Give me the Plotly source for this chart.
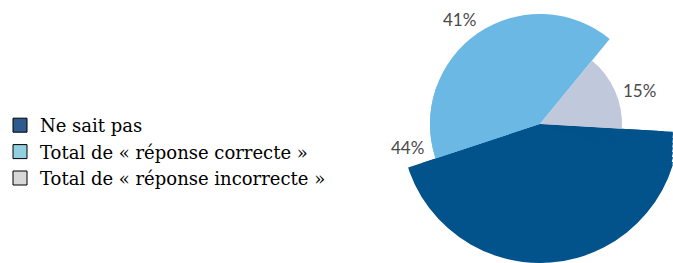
import math
import plotly.graph_objects as go

# ---- data ----
categories = ["Ne sait pas", "Total de « réponse correcte »", "Total de « réponse incorrecte »"]
percent = [44, 41, 15]
slice_radius = [142, 110, 82]          # relative radius of each slice
labels = ["44%", "41%", "15%"]

# ---- styles / layout constants ----
slice_colors = ["#02528b", "#6cb8e4", "#c0c9dc"]
legend_colors = ["#2e5a8e", "#92cfe0", "#d8d8d8"]
start_angle = 3.3                        # degrees, clockwise from east
label_px = [(407, 148), (459, 20), (639, 90)]   # label centres in pixels (x, y from top)

W, H = 673, 263
cx, cy = 540, 124                        # pie centre in pixels (from top-left)

# slice centres / widths (degrees, clockwise from east)
widths = [p * 3.6 for p in percent]
centres = []
acc = start_angle
for w in widths:
    centres.append(acc + w / 2)
    acc += w


def sector_bbox(s0, s1):
    """Same bounding box rule plotly uses for a polar sector (ccw degrees)."""
    arc = s1 - s0
    a0 = s0 % 360
    a1 = a0 + arc
    ax0, ay0 = math.cos(math.radians(a0)), math.sin(math.radians(a0))
    ax1, ay1 = math.cos(math.radians(a1)), math.sin(math.radians(a1))
    if (a0 <= 90 <= a1) or (a0 > 90 and a1 >= 450):
        y1 = 1
    elif ay0 <= 1e-9 and ay1 <= 1e-9:
        y1 = 0
    else:
        y1 = max(ay0, ay1)
    if (a0 <= 180 <= a1) or (a0 > 180 and a1 >= 540):
        x0 = -1
    elif ax0 >= 0 and ax1 >= 0:
        x0 = 0
    else:
        x0 = min(ax0, ax1)
    if (a0 <= 270 <= a1) or (a0 > 270 and a1 >= 630):
        y0 = -1
    elif ay0 >= 0 and ay1 >= 0:
        y0 = 0
    else:
        y0 = min(ay0, ay1)
    if a1 >= 360:
        x1 = 1
    elif ax0 <= 0 and ax1 <= 0:
        x1 = 0
    else:
        x1 = max(ax0, ax1)
    return x0, y0, x1, y1


# viewports (ccw sector, radius in px) whose union covers the visible part of the pie
viewports = [((0, 360), 124), ((160, 343), 139)]
for a in range(2, 18, 2):               # thin wedges near the right edge (cw a .. a+2.5)
    viewports.append(((360 - (a + 2.5), 360 - a), (W - cx) / math.cos(math.radians(a))))

fig = go.Figure()
layout_polars = {}
for i, ((s0, s1), R) in enumerate(viewports):
    key = "polar" if i == 0 else f"polar{i + 1}"
    x0, y0, x1, y1 = sector_bbox(s0, s1)
    dom_x = [(cx + x0 * R) / W, (cx + x1 * R) / W]
    dom_y = [(H - cy + y0 * R) / H, (H - cy + y1 * R) / H]
    dom_x = [min(max(v, 0), 1) for v in dom_x]
    dom_y = [min(max(v, 0), 1) for v in dom_y]
    layout_polars[key] = dict(
        domain=dict(x=dom_x, y=dom_y),
        sector=[s0, s1],
        bgcolor="rgba(0,0,0,0)",
        radialaxis=dict(range=[0, R], visible=False, showgrid=False, showline=False),
        angularaxis=dict(direction="clockwise", rotation=0, visible=False,
                         showgrid=False, showline=False),
    )
    fig.add_trace(go.Barpolar(
        r=slice_radius, theta=centres, width=widths, subplot=key,
        marker=dict(color=slice_colors, line=dict(width=0)),
        showlegend=False, hoverinfo="skip",
    ))

for name, col in zip(categories, legend_colors):
    fig.add_trace(go.Scatterpolar(
        r=[None], theta=[None], mode="markers", name=name, subplot="polar",
        marker=dict(symbol="square", size=14, color=col, line=dict(color="#000000", width=1)),
    ))

annotations = [
    dict(x=px / W, y=(H - py) / H, xref="paper", yref="paper", text=t, showarrow=False,
         xanchor="center", yanchor="middle",
         font=dict(family="Lato, Open Sans, sans-serif", size=17, color="#4a4a4a"))
    for t, (px, py) in zip(labels, label_px)
]

fig.update_layout(
    width=W, height=H,
    margin=dict(l=0, r=0, t=0, b=0),
    paper_bgcolor="white",
    annotations=annotations,
    legend=dict(
        x=0.0, y=(H - 152) / H, xanchor="left", yanchor="middle",
        font=dict(family="DejaVu Serif, Liberation Serif, serif", size=18, color="#000000"),
        bgcolor="rgba(0,0,0,0)",
    ),
    showlegend=True,
    **layout_polars,
)

fig.write_html("out.html", config={"displayModeBar": False},
               post_script="document.body.style.margin='0px';")
